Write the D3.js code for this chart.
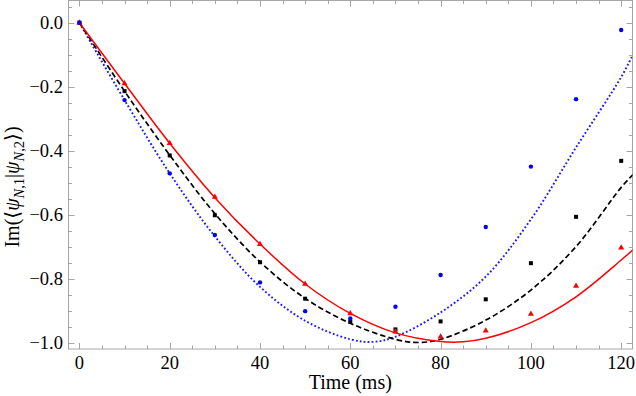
<!DOCTYPE html>
<html>
<head>
<meta charset="utf-8">
<script src="https://cdn.jsdelivr.net/npm/d3@7"></script>
<style>
  body { margin: 0; background: #fff; }
  svg { display: block; font-family: "Liberation Serif", "DejaVu Serif", serif; }
</style>
</head>
<body>
<div id="chart"></div>
<script>
// measured points, every 10 ms
const times = [0, 10, 20, 30, 40, 50, 60, 70, 80, 90, 100, 110, 120];
const bluePts = [0, -0.242, -0.471, -0.664, -0.812, -0.902, -0.925, -0.888, -0.789, -0.639, -0.450, -0.239, -0.023];
const blackPts = [0, -0.214, -0.415, -0.602, -0.749, -0.863, -0.935, -0.959, -0.934, -0.865, -0.752, -0.607, -0.432];
const redPts = [0, -0.190, -0.377, -0.545, -0.693, -0.817, -0.909, -0.966, -0.982, -0.963, -0.911, -0.823, -0.704];

// theory curves
const blueCurveT = [0, 10, 20, 30, 40, 50, 60, 65, 70, 80, 90, 100, 110, 120, 122.6];
const blueCurveV = [0, -0.242, -0.471, -0.668, -0.826, -0.932, -0.990, -0.998, -0.982, -0.906, -0.794, -0.615, -0.390, -0.170, -0.10];
const blackCurveT = [0, 10, 20, 30, 40, 50, 60, 70, 75, 80, 90, 100, 110, 120, 122.6];
const blackCurveV = [0, -0.214, -0.414, -0.597, -0.748, -0.862, -0.940, -0.990, -1.0, -0.990, -0.930, -0.836, -0.700, -0.515, -0.475];
const redCurveT = [0, 10, 20, 30, 40, 50, 60, 70, 80, 85, 90, 100, 110, 120, 122.6];
const redCurveV = [0, -0.190, -0.377, -0.547, -0.692, -0.817, -0.909, -0.970, -0.997, -0.998, -0.987, -0.938, -0.857, -0.742, -0.71];

const xTicks = [0, 20, 40, 60, 80, 100, 120];
const yTicks = [0, -0.2, -0.4, -0.6, -0.8, -1.0];

const w = 636, h = 396;
const frame = { left: 68.5, right: 632.5, top: 0.5, bottom: 349 };
const frameColor = "#a6a6a6";

const svg = d3.select("#chart").append("svg")
    .attr("width", w)
    .attr("height", h);

const x = d3.scaleLinear().domain([0, 120]).range([79.4, 621.2]);
const y = d3.scaleLinear().domain([0, -1]).range([22.7, 342.5]);

// clip to the frame
svg.append("clipPath").attr("id", "clip")
    .append("rect")
    .attr("x", frame.left).attr("y", frame.top)
    .attr("width", frame.right - frame.left)
    .attr("height", frame.bottom - frame.top);

// frame
svg.append("rect")
    .attr("x", frame.left).attr("y", frame.top)
    .attr("width", frame.right - frame.left)
    .attr("height", frame.bottom - frame.top)
    .attr("fill", "none")
    .attr("stroke", frameColor)
    .attr("stroke-width", 1);

// ticks (inward, all four sides)
const xMajor = d3.range(0, 121, 20);
const xMinor = d3.range(0, 123, 5).filter(v => v % 20 !== 0);
const yMajor = d3.range(0, 11, 2).map(v => -v / 10);
const yMinor = d3.range(0, 21).map(v => -v * 0.05).filter((v, i) => i % 4 !== 0);
yMinor.push(0.05);

const ticks = svg.append("g").attr("stroke", frameColor).attr("stroke-width", 1);
xMajor.forEach(v => {
    const px = Math.round(x(v)) + 0.5;
    ticks.append("line").attr("x1", px).attr("x2", px).attr("y1", frame.bottom).attr("y2", frame.bottom - 6);
    ticks.append("line").attr("x1", px).attr("x2", px).attr("y1", frame.top).attr("y2", frame.top + 6);
});
xMinor.forEach(v => {
    const px = Math.round(x(v)) + 0.5;
    ticks.append("line").attr("x1", px).attr("x2", px).attr("y1", frame.bottom).attr("y2", frame.bottom - 3.5);
    ticks.append("line").attr("x1", px).attr("x2", px).attr("y1", frame.top).attr("y2", frame.top + 3.5);
});
yMajor.forEach(v => {
    const py = Math.round(y(v)) + 0.5;
    ticks.append("line").attr("x1", frame.left).attr("x2", frame.left + 6).attr("y1", py).attr("y2", py);
    ticks.append("line").attr("x1", frame.right).attr("x2", frame.right - 6).attr("y1", py).attr("y2", py);
});
yMinor.forEach(v => {
    const py = Math.round(y(v)) + 0.5;
    ticks.append("line").attr("x1", frame.left).attr("x2", frame.left + 3.5).attr("y1", py).attr("y2", py);
    ticks.append("line").attr("x1", frame.right).attr("x2", frame.right - 3.5).attr("y1", py).attr("y2", py);
});

// tick labels
svg.append("g").selectAll("text")
    .data(xTicks).enter().append("text")
    .attr("x", d => x(d))
    .attr("y", 368.5)
    .attr("text-anchor", "middle")
    .style("font-size", "18.5px")
    .text(d => d);

svg.append("g").selectAll("text")
    .data(yTicks).enter().append("text")
    .attr("x", 63)
    .attr("y", d => y(d) + 6.3)
    .attr("text-anchor", "end")
    .style("font-size", "18.5px")
    .text(d => d === 0 ? "0.0" : "\u2212" + Math.abs(d).toFixed(1));

// axis labels
svg.append("text")
    .attr("x", x(60))
    .attr("y", 389)
    .attr("text-anchor", "middle")
    .style("font-size", "20px")
    .text("Time (ms)");

const yl = svg.append("text")
    .attr("transform", "translate(19,187) rotate(-90)")
    .attr("text-anchor", "middle")
    .style("font-size", "20px");
yl.append("tspan").text("Im(\u27E8");
yl.append("tspan").style("font-style", "italic").text("\u03C8");
yl.append("tspan").attr("dy", 4.5).style("font-size", "14.5px").style("font-style", "italic").text("N");
yl.append("tspan").style("font-size", "14.5px").text(",1");
yl.append("tspan").attr("dy", -4.5).text("|");
yl.append("tspan").style("font-style", "italic").text("\u03C8");
yl.append("tspan").attr("dy", 4.5).style("font-size", "14.5px").style("font-style", "italic").text("N");
yl.append("tspan").style("font-size", "14.5px").text(",2");
yl.append("tspan").attr("dy", -4.5).text("\u27E9)");

// curves
const plot = svg.append("g").attr("clip-path", "url(#clip)");
const line = d3.line()
    .x(d => x(d[0]))
    .y(d => y(d[1]))
    .curve(d3.curveCatmullRom.alpha(0.5));

const curves = [
    { t: blueCurveT, v: blueCurveV, color: "#1a1aff", dash: "1.8,2.2", width: 1.9 },
    { t: blackCurveT, v: blackCurveV, color: "#000", dash: "5.5,3", width: 1.7 },
    { t: redCurveT, v: redCurveV, color: "#ff0000", dash: null, width: 1.5 }
];
curves.forEach(c => {
    plot.append("path")
        .datum(c.t.map((t, i) => [t, c.v[i]]))
        .attr("d", line)
        .attr("fill", "none")
        .attr("stroke", c.color)
        .attr("stroke-width", c.width)
        .attr("stroke-dasharray", c.dash);
});

// markers
plot.append("g").selectAll("rect")
    .data(times.map((t, i) => [t, blackPts[i]]))
    .enter().append("rect")
    .attr("x", d => x(d[0]) - 2)
    .attr("y", d => y(d[1]) - 2)
    .attr("width", 4).attr("height", 4)
    .attr("fill", "#000");

plot.append("g").selectAll("path")
    .data(times.map((t, i) => [t, redPts[i]]))
    .enter().append("path")
    .attr("d", d3.symbol().type(d3.symbolTriangle).size(16))
    .attr("transform", d => `translate(${x(d[0])},${y(d[1])})`)
    .attr("fill", "#ff0000");

plot.append("g").selectAll("circle")
    .data(times.map((t, i) => [t, bluePts[i]]))
    .enter().append("circle")
    .attr("cx", d => x(d[0]))
    .attr("cy", d => y(d[1]))
    .attr("r", 2.2)
    .attr("fill", "#0000ff");
</script>
</body>
</html>
